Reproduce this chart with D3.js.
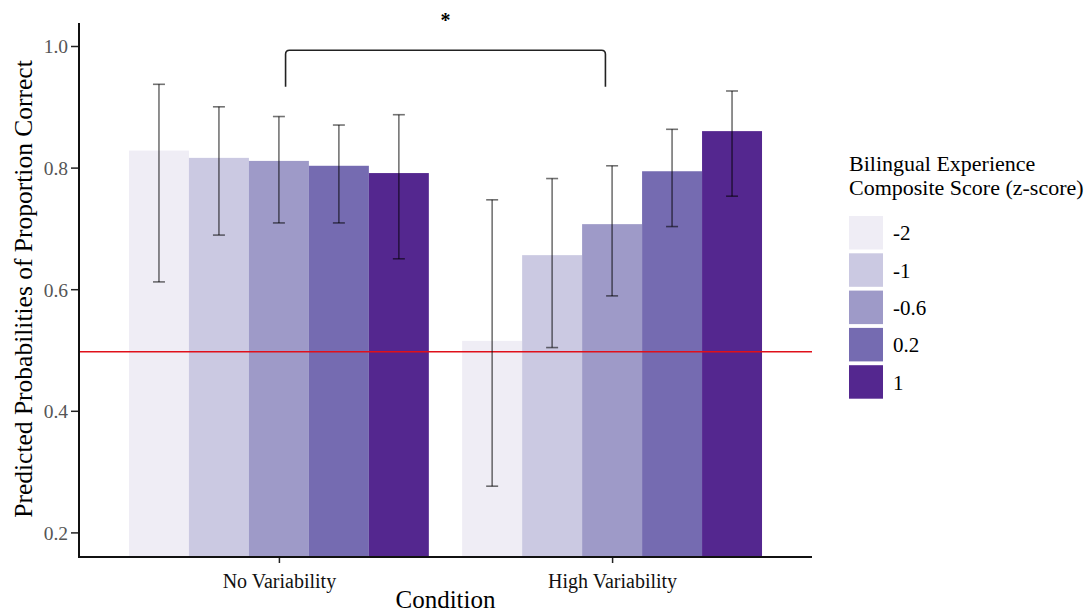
<!DOCTYPE html>
<html>
<head>
<meta charset="utf-8">
<script src="https://cdn.jsdelivr.net/npm/d3@7"></script>
<style>
  body { margin: 0; background: #fff; }
  svg text { font-family: "Liberation Serif", "Times New Roman", Times, "DejaVu Serif", serif !important; }
</style>
</head>
<body>
<div id="chart"></div>
<script>
// Data
const conditions = ["No Variability", "High Variability"];
const levels = ["-2", "-1", "-0.6", "0.2", "1"];
const levelColors = ["#efedf5", "#cbc9e2", "#9e9ac8", "#756bb1", "#54278f"];
const predNoVar = [0.828, 0.816, 0.811, 0.803, 0.791];
const predHighVar = [0.515, 0.656, 0.707, 0.794, 0.860];
const lowerNoVar = [0.612, 0.689, 0.709, 0.709, 0.650];
const upperNoVar = [0.937, 0.900, 0.884, 0.870, 0.887];
const lowerHighVar = [0.276, 0.504, 0.589, 0.703, 0.753];
const upperHighVar = [0.747, 0.782, 0.803, 0.863, 0.926];
const yTicks = [0.2, 0.4, 0.6, 0.8, 1.0];
const chanceLevel = 0.497;

const width = 1089, height = 612;
const panel = { left: 79, right: 812, top: 23, bottom: 557 };

const svg = d3.select("#chart").append("svg")
    .attr("width", width)
    .attr("height", height);

// Scales
const y = d3.scaleLinear()
    .domain([0.2, 1.0])
    .range([532.4, 46]);

const x = d3.scalePoint()
    .domain(conditions)
    .range([panel.left, panel.right])
    .padding(0.6);

const step = x.step();
const xInner = d3.scaleBand()
    .domain(levels)
    .range([-0.45 * step, 0.45 * step]);

const color = d3.scaleOrdinal().domain(levels).range(levelColors);

// Build rows
const rows = [];
conditions.forEach((c, ci) => {
    const pred = ci === 0 ? predNoVar : predHighVar;
    const lo = ci === 0 ? lowerNoVar : lowerHighVar;
    const hi = ci === 0 ? upperNoVar : upperHighVar;
    levels.forEach((l, li) => {
        rows.push({ condition: c, level: l, value: pred[li], lower: lo[li], upper: hi[li] });
    });
});

// Bars
svg.append("g")
    .selectAll("rect")
    .data(rows)
    .enter().append("rect")
    .attr("x", d => x(d.condition) + xInner(d.level))
    .attr("y", d => y(d.value))
    .attr("width", xInner.bandwidth())
    .attr("height", d => panel.bottom - y(d.value))
    .attr("fill", d => color(d.level));

// Chance line
svg.append("line")
    .attr("x1", panel.left)
    .attr("x2", panel.right)
    .attr("y1", y(chanceLevel))
    .attr("y2", y(chanceLevel))
    .attr("stroke", "#e0101a")
    .attr("stroke-width", 1.5);

// Error bars
const capHalf = xInner.bandwidth() * 0.1;
const err = svg.append("g")
    .attr("stroke", "#000")
    .attr("stroke-opacity", 0.55)
    .attr("stroke-width", 1.6)
    .selectAll("g")
    .data(rows)
    .enter().append("g")
    .attr("transform", d => `translate(${x(d.condition) + xInner(d.level) + xInner.bandwidth() / 2},0)`);

err.append("line")
    .attr("y1", d => y(d.lower))
    .attr("y2", d => y(d.upper));
err.append("line")
    .attr("x1", -capHalf).attr("x2", capHalf)
    .attr("y1", d => y(d.upper)).attr("y2", d => y(d.upper));
err.append("line")
    .attr("x1", -capHalf).attr("x2", capHalf)
    .attr("y1", d => y(d.lower)).attr("y2", d => y(d.lower));

// Significance bracket
const bx1 = x(conditions[0]) + 0.02 * step;
const bx2 = x(conditions[1]) - 0.02 * step;
const byTop = y(0.993), byBot = y(0.933);
const r = 4;
svg.append("path")
    .attr("d", `M${bx1},${byBot} L${bx1},${byTop + r} Q${bx1},${byTop} ${bx1 + r},${byTop} ` +
               `L${bx2 - r},${byTop} Q${bx2},${byTop} ${bx2},${byTop + r} L${bx2},${byBot}`)
    .attr("fill", "none")
    .attr("stroke", "#222")
    .attr("stroke-width", 1.6);

svg.append("text")
    .attr("x", (bx1 + bx2) / 2)
    .attr("y", 27)
    .attr("text-anchor", "middle")
    .style("font-size", "20px")
    .style("font-weight", "bold")
    .text("*");

// Axes
const yAxis = svg.append("g")
    .attr("transform", `translate(${panel.left},0)`)
    .call(d3.axisLeft(y).tickValues(yTicks).tickFormat(d3.format(".1f")).tickSize(8).tickSizeOuter(0));
yAxis.select(".domain").remove();
yAxis.selectAll(".tick line").attr("stroke", "#222").attr("stroke-width", 1.5);
yAxis.selectAll(".tick text")
    .attr("x", -11)
    .attr("dy", "0.35em")
    .style("font-size", "19.5px")
    .attr("fill", "#555");

const xAxis = svg.append("g")
    .attr("transform", `translate(0,${panel.bottom})`)
    .call(d3.axisBottom(x).tickSize(6).tickSizeOuter(0));
xAxis.select(".domain").remove();
xAxis.selectAll(".tick line").attr("stroke", "#222").attr("stroke-width", 1.5);
xAxis.selectAll(".tick text")
    .attr("y", 31)
    .attr("dy", 0)
    .style("font-size", "20px")
    .attr("fill", "#111");

// Axis lines
svg.append("path")
    .attr("d", `M${panel.left},${panel.top} L${panel.left},${panel.bottom} L${panel.right},${panel.bottom}`)
    .attr("fill", "none")
    .attr("stroke", "#111")
    .attr("stroke-width", 2);

// Axis titles
svg.append("text")
    .attr("x", (panel.left + panel.right) / 2)
    .attr("y", 608)
    .attr("text-anchor", "middle")
    .style("font-size", "25px")
    .text("Condition");

svg.append("text")
    .attr("transform", "translate(32,289) rotate(-90)")
    .attr("text-anchor", "middle")
    .style("font-size", "25.5px")
    .text("Predicted Probabilities of Proportion Correct");

// Legend
const legend = svg.append("g").attr("transform", "translate(849,0)");
legend.append("text").attr("x", 0).attr("y", 171).style("font-size", "22px").text("Bilingual Experience");
legend.append("text").attr("x", 0).attr("y", 195).style("font-size", "22px").text("Composite Score (z-score)");

const keys = legend.selectAll("g.key")
    .data(levels)
    .enter().append("g")
    .attr("class", "key")
    .attr("transform", (d, i) => `translate(0,${216 + i * 37.3})`);
keys.append("rect")
    .attr("width", 34)
    .attr("height", 33.5)
    .attr("fill", d => color(d));
keys.append("text")
    .attr("x", 44)
    .attr("y", 17)
    .attr("dy", "0.35em")
    .style("font-size", "21px")
    .text(d => d);
</script>
</body>
</html>
